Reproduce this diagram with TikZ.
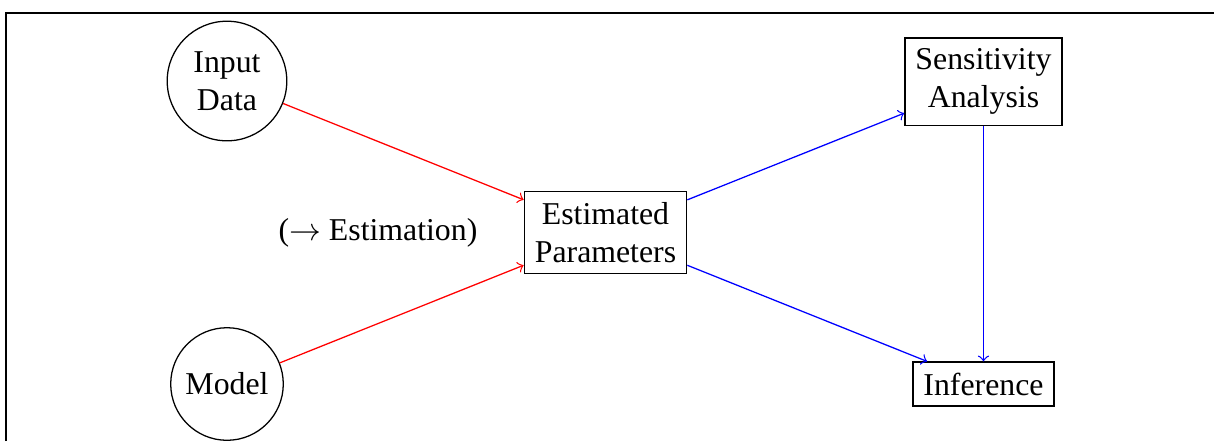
\documentclass[tikz,border=0pt]{standalone}
\usepackage{amsmath}
\usepackage{fontspec}
\setmainfont{Liberation Serif}
\usepackage{tikz}

\begin{document}
\begin{tikzpicture}[x=0.3145pt, y=-0.3145pt, thin, main/.style = {draw, circle, align=center}, box/.style = {draw, rectangle, align=center}, inarrow/.style = {->, red}, outarrow/.style = {->, blue}]
                \useasboundingbox (0,0) rectangle (1214,441);
                \draw (6,441) -- (6,13) -- (1214,13);
                \node[main] (inp) at (227,81) {Input\\Data};
                \node[main] (mdl) at (227,384) {Model};
                \node[box] (est) at (605.5,232.5) {Estimated\\Parameters};
                \node (lbl) at (378,233) {($\rightarrow$ Estimation)};
                \node[box] (sens) at (983.5,81.5) {Sensitivity\\Analysis};
                \node[box] (inf) at (983.5,384) {Inference};
                \draw[inarrow] (inp) -- (est);
                \draw[inarrow] (mdl) -- (est);
                \draw[outarrow] (est) -- (sens);
                \draw[outarrow] (est) -- (inf);
                \draw[outarrow] (sens) -- (inf);
            \end{tikzpicture}
\end{document}
